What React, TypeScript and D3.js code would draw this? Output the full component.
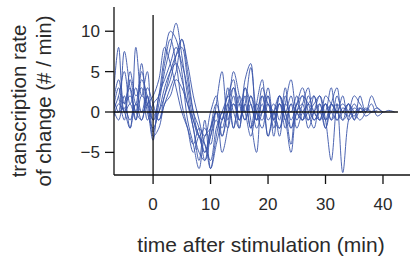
import React from "react";
import * as d3 from "d3";

const times = [-7, -6, -5, -4, -3, -2, -1, 0, 1, 2, 3, 4, 5, 6, 7, 8, 9, 10, 11, 12, 13, 14, 15, 16, 17, 18, 19, 20, 21, 22, 23, 24, 25, 26, 27, 28, 29, 30, 31, 32, 33, 34, 35, 36, 37, 38, 39, 40, 41, 42];

const seriesA = [0, 3, 0, 1, -1, 2, 1, -1, 2, 7, 10, 9, 5, -1, -4, -7, -3, -2, 0, -2, 1, 3, -1, 1, -2, 0, 2, -3, 0, 1, -2, 1, 0, -1, 2, 0, -1, 1, 0, -1, 0.5, 0, -0.5, 0.5, 0, null, null, null, null, null];
const seriesB = [1, 8, 1, 2, 0, -1, 2, -2.5, 1, 5, 8, 11, 7, 2, -2, -5, -6, -3, 0, -1, 2, 0, -2, 3, 1, -1, 0, 1, -3, 2, 0, -2, 1, 2, -1, 0, 1, -2, 1, 0, 2, -1, 0, 0.5, -0.5, 0, 0.5, 0, 0.2, 0];
const seriesC = [2, 0, 7.5, 3, 0, 5, 1, -3.5, 2, 4, 6, 8, 6, 3, -1, -3, -2, -4, 1, 5, -1, 2, -2, 4, 6, -1, 1, -3, 0, 2, -1, 1, -2, 0, 1, 2, -1, 0, 3, -1, 0, 1, -1, 0.5, null, null, null, null, null, null];
const seriesD = [-1, 1, 0, -2, 8, 2, 5, -1, 0, 2, 5, 7, 8, 4, 0, -2, -5, -3, -1, -3, 0, 1, -1, 2, -2, 1, 0, 3, -1, -2, 1, 0, 2, -1, 0, 1, 2, -1, -6, 1, -7.5, -1, 1, 0, 0.5, 0, null, null, null, null];
const seriesE = [0, 0, 0.5, -1, 1, 0, 3, 1, -1, 1, 3, 5, 9, 6, 2, -1, -4, -6, -2, 0, 2, 4, -1, 1, 5.5, 0, -2, 1, -1, 2, 0, -4, 1, 0, -1, 2, 0, 1, -1, 2, 0, 1, -1, 2, 0, 1, -0.5, 0, null, null];
const seriesF = [null, 2, -1, 4, 1, 6, 0, -2, 0, 3, 5, 6, 4, 1, -2, -6, -1, -7, -3, 0, -2, 1, 0, 3, -1, -5, 2, 0, 1, -1, 3, -2, 0, 2, 1, -1, 0, -2, 1, 3, -1, 0, 2, 1, 0, 2, 0.5, 0, null, null];
const seriesG = [0.5, -1, 2, -2, 1, -1, 2, -3, -2, 1, 2, 4, 3, 1, -1, -3, -5, -2, 0, -5, -2, 3, 1, -1, 2, 0, -1, 2, -2, 1, -1, -5, 0, 1, -2, 0, 2, -1, 1, 0, -1, 1, 0, -1, 0, null, null, null, null, null];
const seriesH = [1, 4, 0, 5, 2, 3, -1, 1, 2, 6, 9, 6, 1, -2, -5, -3, -6, -2, 1, -1, 3, -2, 1, 0, 2, -1, 3, 1, 0, -2, 1, 4, 0, -1, 1, 0, -1, 2, 1, 0, null, null, null, null, null, null, null, null, null, null];
const seriesI = [null, null, 1, 3, -1, 4, 2, 0, -1, 2, 4, 7, 9, 5, 0, -3, -4, -7, -4, -1, 1, -2, 2, 0, -3, 1, 4, -1, 0, -3, 2, -1, 1, 3, 0, -2, 1, -1, 0, 1, 0, -0.5, 0.5, 0, 0.3, 0, 0.2, null, null, null];
const seriesJ = [0, 2, 5, 1, 3, 0, 1, 2, 4, 8, 6, 3, 0, -2, -4, -2, -3, 0, 2, -3, 0, 5, 2, -1, 1, -2, 0, 2, -1, 1, 0, 2, -1, 1, 3, -1, 0, 1, -1, 0, 1, 0, null, null, null, null, null, null, null, null];

const allSeries = [seriesA, seriesB, seriesC, seriesD, seriesE, seriesF, seriesG, seriesH, seriesI, seriesJ];

const xTicks = [0, 10, 20, 30, 40];
const yTicks = [-5, 0, 5, 10];

const W = 410;
const H = 259;
const left = 114;
const right = 410;
const top = 7;
const bottom = 175;

export default function App() {
  const x = d3.scaleLinear().domain([-6.8, 44.7]).range([left, right]);
  const y = d3.scaleLinear().domain([-7.8, 13]).range([bottom, top]);
  const line = d3
    .line<number | null>()
    .defined((d) => d !== null)
    .x((_, i) => x(times[i]))
    .y((d) => y(d as number))
    .curve(d3.curveCatmullRom.alpha(0.5));

  const font = "'Liberation Sans', Arial, Helvetica, sans-serif";
  const tickLen = 9;
  const textColor = "#2a2a2a";

  return (
    <svg
      width={W}
      height={H}
      style={{ position: "absolute", left: 0, top: 0, background: "#fff" }}
      fontFamily={font}
    >
      <defs>
        <clipPath id="plotclip">
          <rect x={left} y={top} width={right - left} height={bottom - top} />
        </clipPath>
      </defs>
      <g clipPath="url(#plotclip)">
        {allSeries.map((s, i) => (
          <path key={i} d={line(s) || ""} fill="none" stroke="#3b55aa" strokeWidth={1} strokeOpacity={0.9} />
        ))}
      </g>
      <line x1={left} x2={x(42.6)} y1={y(0)} y2={y(0)} stroke="#111" strokeWidth={1.3} />
      <line x1={x(0)} x2={x(0)} y1={y(12)} y2={bottom} stroke="#111" strokeWidth={1.3} />
      <line x1={left} x2={left} y1={top} y2={bottom} stroke="#111" strokeWidth={1.3} />
      <line x1={left} x2={right} y1={bottom} y2={bottom} stroke="#111" strokeWidth={1.3} />
      {yTicks.map((t) => (
        <g key={t}>
          <line x1={left - tickLen} x2={left} y1={y(t)} y2={y(t)} stroke="#111" strokeWidth={1.3} />
          <text x={left - tickLen - 5} y={y(t)} dy="0.35em" textAnchor="end" fontSize={17} fill={textColor}>
            {t < 0 ? "\u2212" + Math.abs(t) : t}
          </text>
        </g>
      ))}
      {xTicks.map((t) => (
        <g key={t}>
          <line x1={x(t)} x2={x(t)} y1={bottom} y2={bottom + tickLen} stroke="#111" strokeWidth={1.3} />
          <text x={x(t)} y={210} textAnchor="middle" fontSize={17} fill={textColor}>
            {t}
          </text>
        </g>
      ))}
      <text x={261} y={252} textAnchor="middle" fontSize={21} fill={textColor}>
        time after stimulation (min)
      </text>
      <g transform="translate(0,101) rotate(-90)">
        <text x={0} y={26} textAnchor="middle" fontSize={20.5} fill={textColor}>
          transcription rate
        </text>
        <text x={0} y={51} textAnchor="middle" fontSize={20.5} fill={textColor}>
          of change (# / min)
        </text>
      </g>
    </svg>
  );
}
